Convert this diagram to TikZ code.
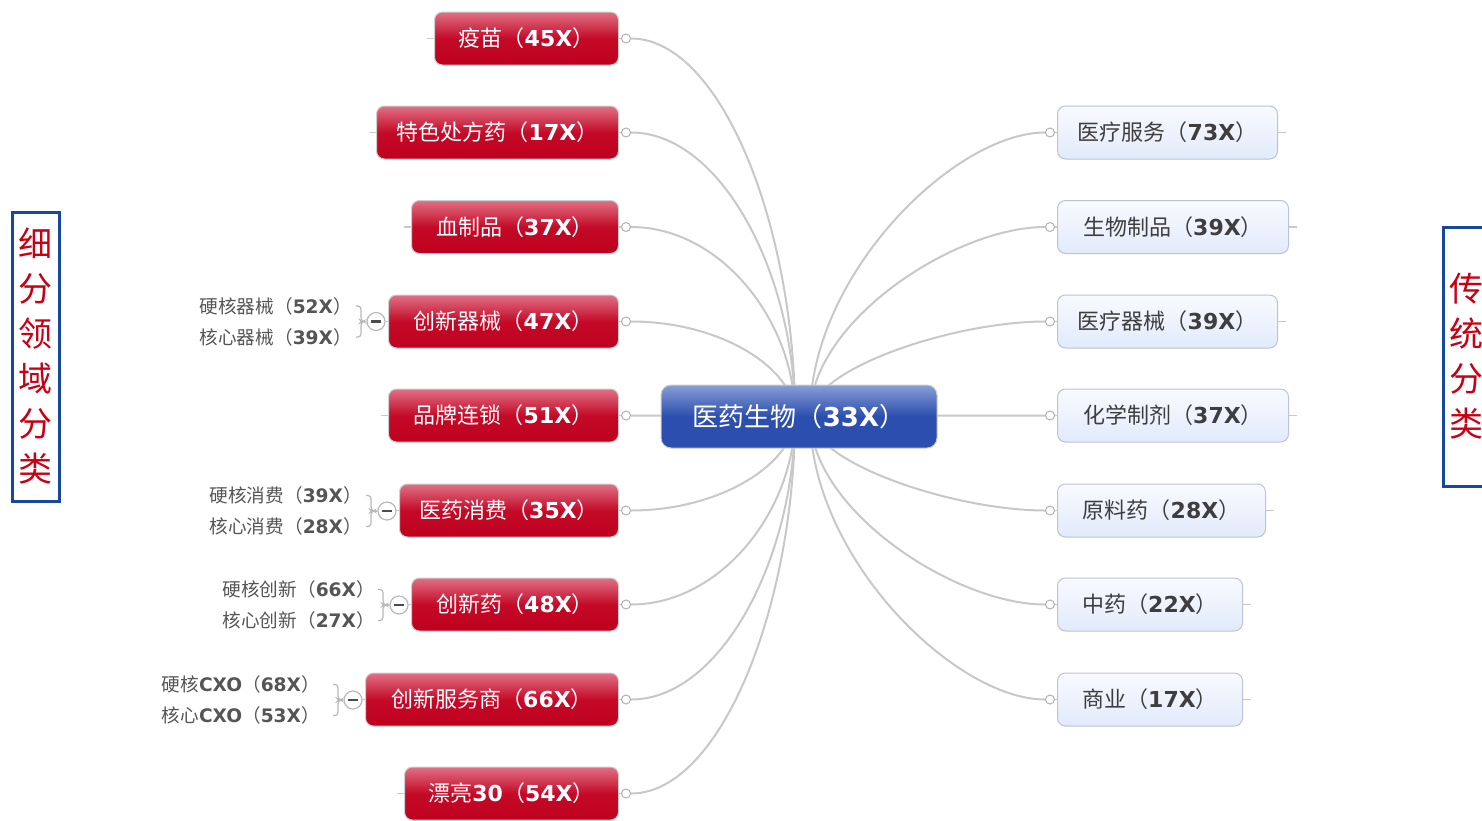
\documentclass[tikz,border=0pt]{standalone}
\usepackage{fontspec}
\setmainfont{DejaVu Sans}
\newfontfamily\cjk{Noto Sans CJK SC}
\newfontfamily\latb{DejaVu Sans}
\usetikzlibrary{backgrounds,calc}
\newcommand{\ml}[2]{{\cjk #1（}{\latb\bfseries #2}{\cjk ）}}
\definecolor{redtop}{RGB}{224,112,132}
\definecolor{redmid}{RGB}{196,10,40}
\definecolor{redbot}{RGB}{190,0,30}
\definecolor{bluetop}{RGB}{136,158,216}
\definecolor{bluebot}{RGB}{44,78,174}
\definecolor{lbtop}{RGB}{248,250,255}
\definecolor{lbbot}{RGB}{226,234,250}
\definecolor{lbedge}{RGB}{186,196,214}
\definecolor{boxedge}{RGB}{205,205,205}
\definecolor{linkgray}{RGB}{200,200,200}
\definecolor{txtgray}{RGB}{62,62,62}
\definecolor{subgray}{RGB}{85,85,85}
\definecolor{sideblue}{RGB}{22,72,160}
\definecolor{sidered}{RGB}{200,0,20}
\begin{document}
\begin{tikzpicture}[x=0.5pt,y=-0.5pt,
  link/.style={draw=linkgray, line width=1pt},
  brk/.style={draw=linkgray!80!gray, line width=0.6pt, rounded corners=1.5pt},
  redbox/.style={draw=boxedge, line width=0.5pt, rounded corners=4pt, top color=redtop, bottom color=redbot, middle color=redmid, text=white, minimum height=26.5pt, inner sep=0pt, font=\fontsize{11}{13}\selectfont, anchor=east},
  rbox/.style={draw=lbedge, line width=0.5pt, rounded corners=4pt, top color=lbtop, bottom color=lbbot, text=txtgray, minimum height=26.5pt, inner sep=0pt, font=\fontsize{11}{13}\selectfont, anchor=west},
  hubbox/.style={draw=boxedge, line width=0.5pt, rounded corners=5pt, top color=bluetop, bottom color=bluebot, middle color=bluebot, text=white, minimum width=138pt, minimum height=31.5pt, inner sep=0pt, font=\fontsize{13}{15}\selectfont},
  dot/.style={circle, draw=linkgray!70!gray, fill=white, line width=0.5pt, minimum size=4.5pt, inner sep=0pt},
  minus/.style={circle, draw=linkgray!80!gray, fill=white, line width=0.6pt, minimum size=9pt, inner sep=0pt,
    path picture={\draw[line width=1.1pt, draw=black!70] ([xshift=-2.3pt]path picture bounding box.center) -- ([xshift=2.3pt]path picture bounding box.center);}},
  sub/.style={text=subgray, inner sep=0pt, anchor=east, font=\fontsize{9.3}{11}\selectfont},
  sidebox/.style={draw=sideblue, line width=1.5pt, minimum width=23.5pt, minimum height=144.5pt, inner sep=0pt, text=sidered, align=center, font=\cjk\fontsize{17}{22.5}\selectfont}
]
\useasboundingbox (0,0) rectangle (1482,820);
\clip (0,0) rectangle (1482,820);

% hub
\node[hubbox] (hub) at (799,416.5) {\ml{医药生物}{33X}};
\coordinate (hubL) at (795,416);
\coordinate (hubR) at (810,416);

% left red boxes
\node[redbox, minimum width=92pt]    (b1) at (619,38.5)  {\ml{疫苗}{45X}};
\node[redbox, minimum width=121pt]   (b2) at (619,132.5) {\ml{特色处方药}{17X}};
\node[redbox, minimum width=103.5pt] (b3) at (619,227)   {\ml{血制品}{37X}};
\node[redbox, minimum width=115pt]   (b4) at (619,321.5) {\ml{创新器械}{47X}};
\node[redbox, minimum width=115pt]   (b5) at (619,415.5) {\ml{品牌连锁}{51X}};
\node[redbox, minimum width=109.5pt] (b6) at (619,510.5) {\ml{医药消费}{35X}};
\node[redbox, minimum width=103.5pt] (b7) at (619,604.5) {\ml{创新药}{48X}};
\node[redbox, minimum width=126.5pt] (b8) at (619,699.5) {\ml{创新服务商}{66X}};
\node[redbox, minimum width=107pt]   (b9) at (619,793.5) {{\cjk 漂亮}{\latb\bfseries 30}\ml{}{54X}};

% right boxes
\node[rbox, minimum width=110pt]   (r1) at (1057,132.5) {\ml{医疗服务}{73X}};
\node[rbox, minimum width=115.5pt] (r2) at (1057,227)   {\ml{生物制品}{39X}};
\node[rbox, minimum width=110pt]   (r3) at (1057,321.5) {\ml{医疗器械}{39X}};
\node[rbox, minimum width=115.5pt] (r4) at (1057,415.5) {\ml{化学制剂}{37X}};
\node[rbox, minimum width=104pt]   (r5) at (1057,510.5) {\ml{原料药}{28X}};
\node[rbox, minimum width=92.5pt]  (r6) at (1057,604.5) {\ml{中药}{22X}};
\node[rbox, minimum width=92.5pt]  (r7) at (1057,699.5) {\ml{商业}{17X}};

% dots
\foreach \i in {1,...,9}{ \node[dot] (d\i) at ($(b\i.east)+(7,0)$) {}; }
\foreach \i in {1,...,7}{ \node[dot] (e\i) at ($(r\i.west)+(-7,0)$) {}; }

% sub items
\node[sub] (s4a) at (352,306) {\ml{硬核器械}{52X}};
\node[sub] (s4b) at (352,337) {\ml{核心器械}{39X}};
\node[sub] (s6a) at (362,495) {\ml{硬核消费}{39X}};
\node[sub] (s6b) at (362,526) {\ml{核心消费}{28X}};
\node[sub] (s7a) at (375,589) {\ml{硬核创新}{66X}};
\node[sub] (s7b) at (375,620) {\ml{核心创新}{27X}};
\node[sub] (s8a) at (320,684) {{\cjk 硬核}{\latb\bfseries CXO}\ml{}{68X}};
\node[sub] (s8b) at (320,715) {{\cjk 核心}{\latb\bfseries CXO}\ml{}{53X}};

\node[minus] (m4) at (376,321.5) {};
\node[minus] (m6) at (387,511) {};
\node[minus] (m7) at (399,605) {};
\node[minus] (m8) at (353,700) {};
\coordinate (k4) at (363,321.5);
\coordinate (k6) at (373,511);
\coordinate (k7) at (385,605);
\coordinate (k8) at (340,700);

% side labels
\node[sidebox] (lside) at (35.5,356.5) {\raisebox{-2.5pt}{\parbox{20pt}{\centering 细\\分\\领\\域\\分\\类}}};
\node[sidebox, minimum height=129.5pt] (rside) at (1466.5,356.5) {\raisebox{-2.5pt}{\parbox{20pt}{\centering 传\\统\\分\\类}}};

\begin{scope}[on background layer]
\fill[white] (0,0) rectangle (1482,820);
\foreach \n/\y in {d1/38,d2/132,d3/227,d4/321,d5/415.5,d6/510,d7/604,d8/699,d9/793}{
  \pgfmathsetmacro\dy{(\y-416)/2}
  \draw[link] (\n.east) .. controls +(90,0) and +(0,\dy) .. (hubL);
}
\foreach \n/\y in {e1/132,e2/227,e3/321,e4/415.5,e5/510,e6/604,e7/699}{
  \pgfmathsetmacro\dy{(\y-416)/2}
  \draw[link] (\n.west) .. controls +(-90,0) and +(0,\dy) .. (hubR);
}
\foreach \i in {1,...,9}{ \draw[link, line width=0.6pt] (b\i.east) -- (d\i); }
\foreach \i in {1,...,7}{ \draw[link, line width=0.6pt] (r\i.west) -- (e\i); \draw[link, line width=0.6pt] (r\i.east) -- ++(8,0); }
\foreach \i in {1,2,3,5,9}{ \draw[link, line width=0.6pt] (b\i.west) -- ++(-7,0); }
\foreach \i in {4,6,7,8}{
  \draw[link, line width=0.6pt] (m\i) -- (b\i.west);
  \draw[brk] (m\i.west) -- (k\i);
  \draw[brk] (k\i) ++(-7,-15.5) -- ++(5,0) -- ++(0,14.5) -- ++(2,1) -- ++(-2,1) -- ++(0,14.5) -- ++(-5,0);
}
\end{scope}
\end{tikzpicture}
\end{document}
